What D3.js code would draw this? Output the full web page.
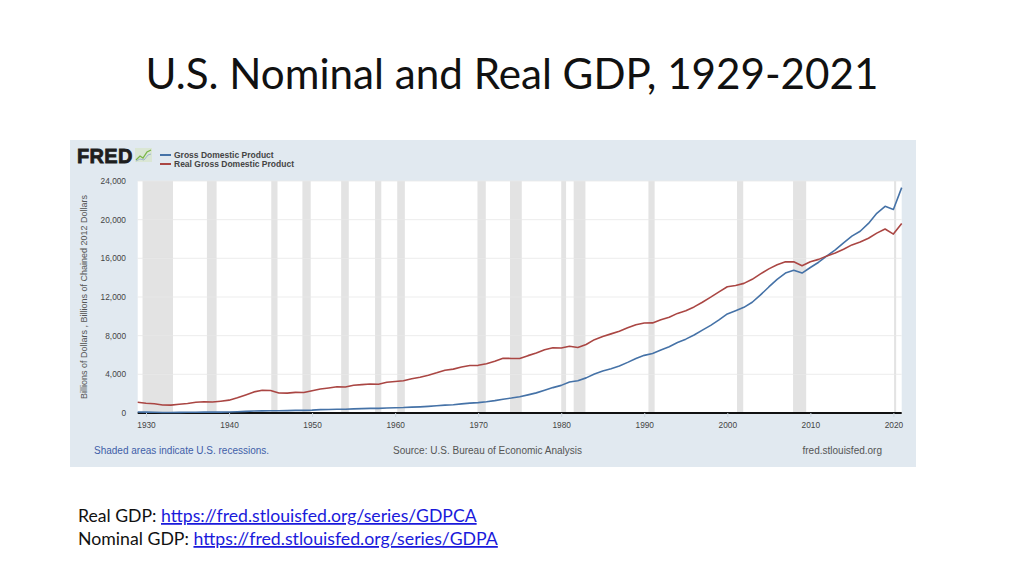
<!DOCTYPE html>
<meta charset="utf-8">
<style>
body { margin: 0; background: #fff; }
svg { display: block; font-family: "Liberation Sans", Arial, sans-serif; }
.title { font-family: Lato, "Open Sans", sans-serif; fill: #111; }
.note { font-family: Lato, "Open Sans", sans-serif; fill: #111; }
.link { fill: #1a1adb; text-decoration: underline; }
.grid line { stroke: #e8e8e8; stroke-width: 1; }
.tick-label { font-size: 8px; fill: #444; }
</style>
<svg width="1024" height="576" id="chart"></svg>
<script src="https://d3js.org/d3.v7.min.js"></script>
<script>
// annual data, billions of dollars
var years = d3.range(1929, 2022);

var nominalGdp = [104.6, 92.2, 77.4, 59.5, 57.2, 66.8, 74.2, 84.8, 93.0, 87.4,
  93.4, 102.9, 129.3, 166.0, 203.1, 224.4, 228.0, 227.5, 249.6, 274.5,
  272.5, 299.8, 346.9, 367.3, 389.2, 390.5, 425.5, 449.4, 474.0, 481.2,
  521.7, 542.4, 562.2, 603.9, 637.5, 684.5, 742.3, 813.4, 860.0, 940.7,
  1017.6, 1073.3, 1164.9, 1279.1, 1425.4, 1545.2, 1684.9, 1873.4, 2081.8, 2351.6,
  2627.3, 2857.3, 3207.0, 3343.8, 3634.0, 4037.6, 4339.0, 4579.6, 4855.2, 5236.4,
  5641.6, 5963.1, 6158.1, 6520.3, 6858.6, 7287.2, 7639.7, 8073.1, 8577.6, 9062.8,
  9631.2, 10251.0, 10581.9, 10929.1, 11456.5, 12217.2, 13039.2, 13815.6, 14474.2, 14769.9,
  14478.1, 15049.0, 15599.7, 16254.0, 16880.7, 17608.1, 18295.0, 18804.9, 19612.1, 20656.5,
  21381.0, 21060.5, 23315.1];

var realGdp = [1109.4, 1015.1, 950.0, 827.6, 817.3, 905.6, 986.3, 1113.6, 1170.4, 1131.2,
  1221.7, 1329.0, 1578.0, 1872.9, 2184.5, 2359.8, 2334.1, 2069.1, 2051.6, 2136.1,
  2127.0, 2306.1, 2488.9, 2589.4, 2707.0, 2691.8, 2871.0, 2932.8, 2994.8, 2972.5,
  3178.1, 3260.0, 3343.5, 3548.4, 3706.9, 3912.3, 4159.7, 4428.0, 4539.8, 4764.9,
  4921.3, 4931.1, 5088.9, 5364.4, 5670.1, 5641.7, 5631.3, 5934.2, 6203.4, 6535.5,
  6742.5, 6725.0, 6897.4, 6772.1, 7081.2, 7587.0, 7906.1, 8186.1, 8465.0, 8810.4,
  9137.9, 9310.4, 9318.7, 9643.5, 9906.1, 10304.4, 10584.0, 10975.2, 11462.7, 11981.0,
  12526.2, 13061.4, 13183.5, 13408.3, 13828.6, 14390.1, 14907.5, 15327.3, 15635.1, 15644.0,
  15239.8, 15649.0, 15891.5, 16253.7, 16553.3, 16932.1, 17390.3, 17680.3, 18079.1, 18606.8,
  19036.1, 18509.1, 19609.8];

// NBER recessions [start year, start month, end year, end month]
var recessions = [
  [1929, 8, 1933, 3], [1937, 5, 1938, 6], [1945, 2, 1945, 10], [1948, 11, 1949, 10],
  [1953, 7, 1954, 5], [1957, 8, 1958, 4], [1960, 4, 1961, 2], [1969, 12, 1970, 11],
  [1973, 11, 1975, 3], [1980, 1, 1980, 7], [1981, 7, 1982, 11], [1990, 7, 1991, 3],
  [2001, 3, 2001, 11], [2007, 12, 2009, 6], [2020, 2, 2020, 4]
];

var yTicks = [0, 4000, 8000, 12000, 16000, 20000, 24000];
var xTicks = [1930, 1940, 1950, 1960, 1970, 1980, 1990, 2000, 2010, 2020];

var seriesNames = ["Gross Domestic Product", "Real Gross Domestic Product"];
var seriesColors = ["#4572a7", "#aa4643"];

var svg = d3.select("#chart");

// slide title
var title = svg.append("text")
    .attr("class", "title")
    .attr("x", 512).attr("y", 89)
    .attr("text-anchor", "middle")
    .style("font-size", "44px")
    .text("U.S. Nominal and Real GDP, 1929-2021");
// fit to the width seen on the slide
var tw = title.node().getComputedTextLength();
title.style("font-size", (44 * 733 / tw) + "px");

// FRED panel
svg.append("rect")
    .attr("x", 70).attr("y", 140)
    .attr("width", 846).attr("height", 327)
    .attr("fill", "#e1e9f0");

var x = d3.scaleLinear().domain([1929, 2021]).range([137.7, 901.7]);
var y = d3.scaleLinear().domain([0, 24000]).range([413, 181]);

svg.append("rect")
    .attr("x", x(1929)).attr("y", y(24000))
    .attr("width", x(2021) - x(1929)).attr("height", y(0) - y(24000))
    .attr("fill", "#fff");

// recession shading
svg.append("g").selectAll("rect")
    .data(recessions)
    .enter().append("rect")
    .attr("x", function(d) { return x(d[0] + (d[1] - 1) / 12); })
    .attr("width", function(d) { return x(d[2] + d[3] / 12) - x(d[0] + (d[1] - 1) / 12); })
    .attr("y", y(24000))
    .attr("height", y(0) - y(24000))
    .attr("fill", "#e3e3e3");

// horizontal grid
svg.append("g").attr("class", "grid")
    .selectAll("line")
    .data(yTicks.slice(1))
    .enter().append("line")
    .attr("x1", x(1929)).attr("x2", x(2021))
    .attr("y1", function(d) { return y(d); })
    .attr("y2", function(d) { return y(d); })
    .attr("stroke-opacity", 0.8);

// y axis labels
svg.append("g").selectAll("text")
    .data(yTicks)
    .enter().append("text")
    .attr("class", "tick-label")
    .attr("x", 126)
    .attr("y", function(d) { return y(d) + 3; })
    .attr("text-anchor", "end")
    .style("font-size", "8.3px")
    .text(d3.format(","));

// x axis
var xAxis = svg.append("g")
    .attr("transform", "translate(0," + y(0) + ")")
    .call(d3.axisBottom(x).tickValues(xTicks).tickFormat(d3.format("d")).tickSize(4));
xAxis.select(".domain").attr("stroke", "#111").attr("stroke-width", 2)
    .attr("d", "M" + x(1929) + ",0H" + x(2021));
xAxis.selectAll(".tick line").attr("stroke", "#ccd6df");
xAxis.selectAll(".tick text")
    .attr("class", "tick-label")
    .attr("y", 9)
    .style("font-family", "Liberation Sans, Arial, sans-serif")
    .style("font-size", "8.3px")
    .attr("fill", "#444");

// lines
var line = d3.line()
    .x(function(d, i) { return x(years[i]); })
    .y(function(d) { return y(d); });

[nominalGdp, realGdp].forEach(function(s, k) {
  svg.append("path")
      .datum(s)
      .attr("fill", "none")
      .attr("stroke", seriesColors[k])
      .attr("stroke-width", 1.6)
      .attr("stroke-linejoin", "round")
      .attr("d", line);
});

// y axis title
svg.append("text")
    .attr("transform", "translate(87,297) rotate(-90)")
    .attr("text-anchor", "middle")
    .style("font-size", "9px")
    .attr("fill", "#555")
    .text("Billions of Dollars , Billions of Chained 2012 Dollars");

// FRED logo
svg.append("text")
    .attr("x", 77).attr("y", 163)
    .style("font-size", "20px")
    .style("font-weight", "900")
    .style("letter-spacing", "0.3px")
    .attr("fill", "#1e1e1e")
    .attr("stroke", "#1e1e1e")
    .attr("stroke-width", 0.8)
    .text("FRED");
var icon = svg.append("g").attr("transform", "translate(135,148)");
icon.append("rect").attr("width", 17).attr("height", 14).attr("fill", "#d7e4c8").attr("opacity", 0.7);
icon.append("path").attr("d", "M1,12 L5,8 L8,10 L12,4 L16,2")
    .attr("fill", "none").attr("stroke", "#7ab648").attr("stroke-width", 1.3);
icon.append("path").attr("d", "M1,13 L5,11 L9,12 L13,7 L16,6")
    .attr("fill", "none").attr("stroke", "#9fb6c9").attr("stroke-width", 1);

// legend
var legend = svg.append("g").selectAll("g")
    .data(seriesNames)
    .enter().append("g")
    .attr("transform", function(d, i) { return "translate(160," + (155 + i * 9) + ")"; });
legend.append("line")
    .attr("x1", 0).attr("x2", 11)
    .attr("stroke", function(d, i) { return seriesColors[i]; })
    .attr("stroke-width", 2);
legend.append("text")
    .attr("x", 14).attr("y", 3)
    .style("font-size", "8.5px")
    .style("font-weight", "bold")
    .attr("fill", "#444")
    .text(function(d) { return d; });

// footer
svg.append("text")
    .attr("x", 94).attr("y", 454)
    .style("font-size", "10px")
    .attr("fill", "#3f5ea8")
    .text("Shaded areas indicate U.S. recessions.");
svg.append("text")
    .attr("x", 393).attr("y", 454)
    .style("font-size", "10px")
    .attr("fill", "#555")
    .text("Source: U.S. Bureau of Economic Analysis");
svg.append("text")
    .attr("x", 882).attr("y", 454)
    .attr("text-anchor", "end")
    .style("font-size", "10px")
    .attr("fill", "#555")
    .text("fred.stlouisfed.org");

// slide notes
var notes = [
  ["Real GDP: ", "https://fred.stlouisfed.org/series/GDPCA", 522, 399],
  ["Nominal GDP: ", "https://fred.stlouisfed.org/series/GDPA", 545, 420]
];
notes.forEach(function(n) {
  var t = svg.append("text").attr("class", "note")
      .attr("x", 78).attr("y", n[2]).style("font-size", "16px");
  t.append("tspan").text(n[0]);
  t.append("tspan").attr("class", "link").text(n[1]);
  var w = t.node().getComputedTextLength();
  t.style("font-size", (16 * n[3] / w) + "px");
});
</script>
